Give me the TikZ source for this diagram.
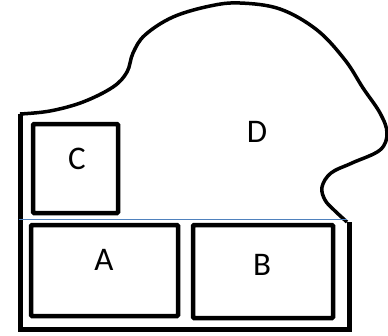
\documentclass[tikz,border=0pt]{standalone}
\usepackage{fontspec}
\setmainfont{Carlito}
\begin{document}
\begin{tikzpicture}[x=1pt,y=-1pt,
  box/.style={draw=black,line width=4.5pt,rounded corners=1pt,inner sep=0pt},
  lbl/.style={font=\fontsize{33}{33}\selectfont,inner sep=0pt},
  outline/.style={draw=black,line width=3.5pt,line join=round},
  frame/.style={draw=black,line width=5pt,line join=miter},
  sep/.style={draw={rgb,255:red,79;green,129;blue,189},line width=1pt}]
\useasboundingbox (0,0) rectangle (388,335);
% outer region D
\coordinate (fTL) at (20,114);
\coordinate (fBL) at (20,329);
\coordinate (fBR) at (349,329);
\coordinate (fTR) at (349,222);
\draw[frame] (fTR) -- (fBR) -- (fBL) -- (fTL);
\draw[outline] plot[smooth,tension=0.6] coordinates {(20,114) (50,111) (83,102) (113,87) (127,72) (133,53) (145,35) (173,17) (210,6) (240,3) (280,9) (317,30) (345,60) (363,88) (380,113) (387,133) (380,150) (352,163) (331,173) (322,187) (325,200) (334,210) (347,222)};
% separator
\coordinate (sL) at (19,219);
\coordinate (sR) at (347,219);
\draw[sep] (sL) -- (sR);
% boxes
\node[box,minimum width=85pt,minimum height=89pt] (C) at (75.5,168.5) {};
\node[box,minimum width=147pt,minimum height=91pt] (A) at (104.5,270.5) {};
\node[box,minimum width=140pt,minimum height=93pt] (B) at (263,271.5) {};
\node[lbl] (lC) at (77,159) {C};
\node[lbl] (lA) at (104,260) {A};
\node[lbl] (lB) at (262,265) {B};
\node[lbl] (lD) at (257,132) {D};
\end{tikzpicture}
\end{document}
